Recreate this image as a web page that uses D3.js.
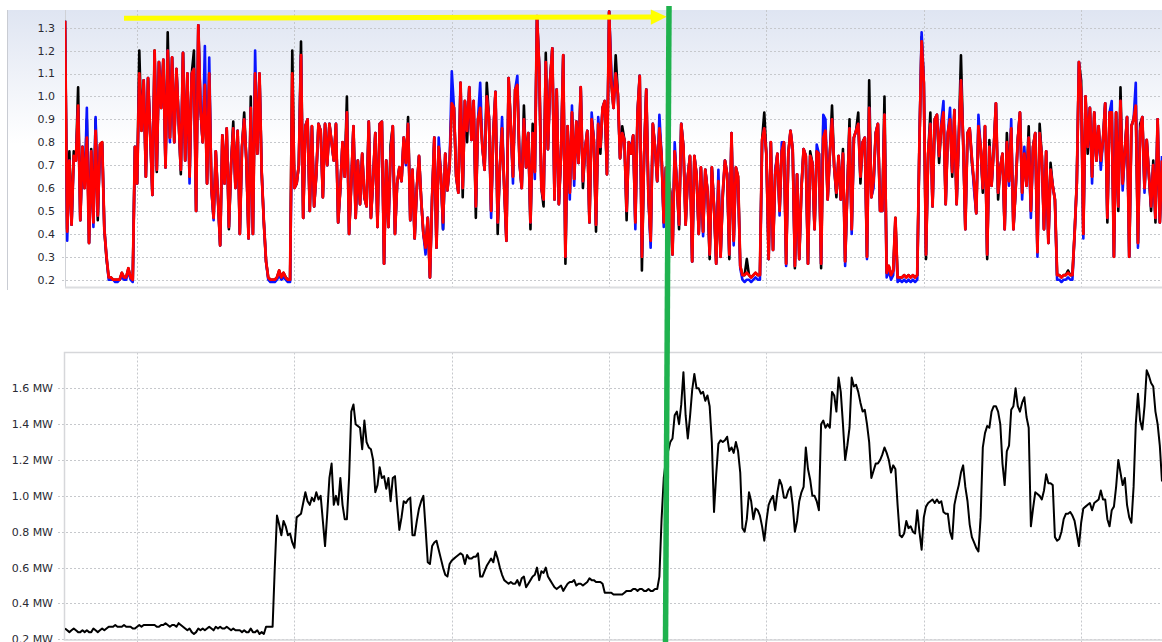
<!DOCTYPE html>
<html>
<head>
<meta charset="utf-8">
<script src="https://cdn.jsdelivr.net/npm/d3@7"></script>
<style>
  html, body { margin: 0; padding: 0; background: #fff; }
  svg { display: block; }
  text { font-family: "DejaVu Sans", Verdana, sans-serif; font-size: 11px; fill: #2a2a33; }
</style>
</head>
<body>
<svg id="chart" width="1162" height="642"></svg>
<script>
// ---- data: hourly samples, one value per hour ----
const topTicks = [0.2, 0.3, 0.4, 0.5, 0.6, 0.7, 0.8, 0.9, 1.0, 1.1, 1.2, 1.3];
const powerTicks = [0.2, 0.4, 0.6, 0.8, 1.0, 1.2, 1.4, 1.6];
// hour index of each vertical grid line (every 72 h)
const timeGrid = [33, 105, 177, 249, 321, 393, 465];

const seriesBlack = [
  1.33,0.42,0.76,0.44,0.76,0.72,1.04,0.46,0.78,0.6,
  0.9,0.36,0.77,0.45,0.9,0.46,0.79,0.8,0.42,0.29,
  0.21,0.21,0.2,0.2,0.2,0.2,0.23,0.21,0.21,0.25,
  0.21,0.2,0.78,0.62,1.2,0.85,1.07,0.65,1.08,0.84,
  0.57,1.2,0.67,1.15,0.95,1.16,0.69,1.28,0.82,1.17,
  0.8,1.12,0.9,0.66,1.19,0.72,1.1,0.65,1.1,1.2,
  0.5,1.31,0.95,0.8,1.05,0.62,1.1,0.6,0.47,0.76,
  0.55,0.35,0.83,0.62,0.86,0.42,0.7,0.89,0.6,0.85,
  0.4,0.78,0.93,0.72,0.38,1.0,0.4,1.1,0.75,1.1,
  0.67,0.45,0.28,0.21,0.2,0.2,0.2,0.21,0.24,0.21,
  0.23,0.21,0.2,0.2,1.2,0.6,0.62,0.7,1.24,0.47,
  0.87,0.9,0.5,0.87,0.52,0.66,0.88,0.85,0.56,0.88,
  0.7,0.88,0.8,0.72,0.88,0.45,0.6,0.8,0.65,1.0,
  0.4,0.62,0.87,0.47,0.72,0.53,0.75,0.56,0.52,0.89,
  0.47,0.64,0.84,0.43,0.88,0.89,0.27,0.72,0.43,0.79,
  0.87,0.4,0.62,0.69,0.63,0.82,0.71,0.91,0.46,0.68,
  0.38,0.6,0.74,0.55,0.4,0.34,0.47,0.21,0.56,0.82,
  0.34,0.78,0.66,0.42,0.75,0.59,0.7,0.97,0.95,0.65,
  0.58,1.06,0.56,0.98,0.8,1.04,0.81,0.98,0.47,0.9,
  0.95,0.78,0.68,1.06,0.91,0.5,0.84,1.02,0.4,0.69,
  0.86,0.6,0.37,1.08,0.87,0.65,1.03,1.05,0.71,0.6,
  0.96,0.69,0.84,0.42,0.88,0.67,1.35,1.13,0.6,0.52,
  1.19,0.77,1.07,1.21,0.55,1.03,0.53,0.75,1.18,0.27,
  0.87,0.58,0.93,0.64,0.89,0.71,1.04,0.6,0.77,0.85,
  0.45,0.9,0.81,0.41,0.88,0.75,0.95,0.98,0.66,1.37,
  1.06,0.95,1.18,1.01,0.73,0.87,0.81,0.46,0.8,0.75,
  0.83,0.45,0.93,1.09,0.24,0.74,1.03,0.56,0.37,0.88,
  0.78,0.63,0.86,0.74,0.45,0.69,0.65,0.58,0.31,0.76,
  0.62,0.42,0.88,0.78,0.44,0.65,0.74,0.28,0.74,0.66,
  0.4,0.69,0.41,0.68,0.59,0.29,0.69,0.52,0.27,0.63,
  0.3,0.56,0.72,0.66,0.29,0.84,0.37,0.69,0.65,0.26,
  0.22,0.22,0.29,0.22,0.21,0.22,0.23,0.22,0.22,0.81,
  0.93,0.74,0.29,0.8,0.33,0.66,0.75,0.5,0.76,0.8,
  0.27,0.75,0.85,0.77,0.25,0.66,0.29,0.6,0.77,0.74,
  0.27,0.76,0.71,0.42,0.76,0.75,0.25,0.88,0.85,0.55,
  0.75,0.96,0.69,0.56,0.74,0.55,0.77,0.28,0.59,0.9,
  0.42,0.82,0.85,0.93,0.62,0.8,0.82,0.3,1.07,0.56,
  0.63,0.84,0.88,0.5,0.5,1.0,0.23,0.26,0.22,0.24,
  0.47,0.21,0.21,0.21,0.22,0.21,0.22,0.21,0.22,0.21,
  0.22,0.8,1.26,1.06,0.29,0.75,0.93,0.52,0.9,0.92,
  0.71,0.87,0.93,0.53,0.84,0.9,0.65,0.94,0.53,0.82,
  1.18,0.81,0.42,0.84,0.86,0.71,0.62,0.49,0.87,0.78,
  0.58,0.87,0.29,0.81,0.61,0.77,0.97,0.55,0.69,0.75,
  0.42,0.84,0.63,0.86,0.42,0.59,0.81,0.93,0.58,0.75,
  0.61,0.87,0.5,0.78,0.84,0.32,0.88,0.74,0.42,0.76,
  0.36,0.71,0.61,0.55,0.22,0.22,0.21,0.22,0.22,0.24,
  0.22,0.22,0.4,0.62,1.15,1.07,0.4,1.0,0.75,0.95,
  0.65,0.93,0.72,0.87,0.71,0.81,0.97,0.45,0.93,0.93,
  0.3,0.93,0.5,1.04,0.62,0.76,0.91,0.3,0.87,0.9,
  0.96,0.36,0.88,0.91,0.6,0.81,0.66,0.5,0.72,0.45,0.9,0.45,0.72
];

const seriesBlue = [
  1.33,0.37,0.72,0.44,0.73,0.72,0.95,0.46,0.78,0.6,
  0.95,0.36,0.76,0.43,0.91,0.48,0.78,0.79,0.42,0.3,
  0.2,0.2,0.2,0.19,0.19,0.2,0.21,0.2,0.2,0.24,
  0.2,0.19,0.78,0.62,1.08,0.87,1.07,0.65,1.08,0.84,
  0.57,1.18,0.68,1.15,0.95,1.16,0.69,1.2,0.8,1.17,
  0.8,1.12,0.9,0.68,1.19,0.72,1.1,0.62,1.1,1.12,
  0.5,1.31,0.95,0.8,1.22,0.62,1.17,0.6,0.46,0.76,
  0.55,0.35,0.83,0.62,0.86,0.43,0.7,0.86,0.6,0.85,
  0.4,0.78,0.9,0.72,0.38,0.95,0.4,1.2,0.75,1.1,
  0.67,0.45,0.28,0.2,0.19,0.19,0.19,0.2,0.22,0.2,
  0.21,0.2,0.19,0.19,0.96,0.6,0.62,0.7,1.18,0.47,
  0.87,0.9,0.5,0.87,0.52,0.66,0.88,0.85,0.56,0.88,
  0.7,0.88,0.8,0.72,0.88,0.45,0.6,0.8,0.65,0.93,
  0.4,0.62,0.87,0.47,0.72,0.53,0.75,0.56,0.52,0.89,
  0.47,0.64,0.84,0.43,0.88,0.89,0.27,0.72,0.43,0.75,
  0.87,0.4,0.62,0.69,0.63,0.82,0.7,0.88,0.46,0.68,
  0.38,0.6,0.74,0.55,0.4,0.31,0.47,0.21,0.56,0.82,
  0.34,0.82,0.66,0.42,0.75,0.59,0.7,1.11,0.95,0.65,
  0.58,1.06,0.6,0.98,0.85,1.04,0.81,0.98,0.52,0.9,
  1.06,0.78,0.68,1.0,0.91,0.47,0.84,1.02,0.45,0.69,
  0.91,0.6,0.37,1.08,0.87,0.62,1.03,1.09,0.71,0.6,
  0.9,0.69,0.84,0.45,0.84,0.64,1.35,1.13,0.6,0.55,
  1.15,0.77,1.07,1.21,0.55,1.03,0.53,0.75,1.18,0.3,
  0.87,0.55,0.96,0.61,0.89,0.71,1.04,0.63,0.77,0.85,
  0.45,0.93,0.81,0.44,0.91,0.78,0.95,0.98,0.66,1.37,
  1.11,0.95,1.1,1.01,0.73,0.84,0.81,0.5,0.8,0.78,
  0.83,0.42,0.93,1.09,0.3,0.74,1.03,0.56,0.34,0.88,
  0.78,0.63,0.92,0.74,0.43,0.69,0.65,0.58,0.31,0.8,
  0.62,0.44,0.88,0.78,0.44,0.65,0.74,0.28,0.74,0.66,
  0.4,0.69,0.39,0.68,0.59,0.31,0.69,0.52,0.27,0.68,
  0.3,0.58,0.72,0.66,0.31,0.84,0.35,0.69,0.63,0.25,
  0.2,0.19,0.2,0.2,0.19,0.2,0.21,0.2,0.2,0.8,
  0.86,0.74,0.29,0.8,0.33,0.68,0.75,0.48,0.8,0.8,
  0.26,0.75,0.85,0.77,0.26,0.66,0.29,0.6,0.77,0.74,
  0.27,0.74,0.71,0.42,0.79,0.75,0.27,0.92,0.9,0.55,
  0.75,0.9,0.69,0.58,0.74,0.55,0.75,0.26,0.59,0.86,
  0.4,0.82,0.85,0.88,0.65,0.8,0.82,0.29,0.95,0.56,
  0.6,0.84,0.88,0.5,0.5,0.92,0.21,0.24,0.2,0.22,
  0.45,0.19,0.2,0.19,0.2,0.19,0.2,0.19,0.2,0.19,
  0.2,0.8,1.28,1.06,0.31,0.75,0.88,0.52,0.9,0.92,
  0.74,0.89,0.98,0.53,0.84,0.95,0.67,0.94,0.53,0.82,
  1.07,0.81,0.42,0.84,0.86,0.73,0.59,0.49,0.92,0.78,
  0.6,0.87,0.31,0.78,0.61,0.77,0.97,0.58,0.69,0.75,
  0.42,0.8,0.61,0.9,0.42,0.59,0.81,0.93,0.55,0.78,
  0.61,0.82,0.47,0.78,0.84,0.3,0.84,0.74,0.42,0.76,
  0.36,0.68,0.61,0.55,0.2,0.2,0.19,0.2,0.2,0.21,
  0.2,0.2,0.4,0.62,1.15,1.02,0.38,1.0,0.78,0.95,
  0.62,0.93,0.72,0.87,0.68,0.81,0.97,0.47,0.93,0.98,
  0.3,0.93,0.52,0.98,0.59,0.76,0.91,0.3,0.87,0.9,
  1.06,0.34,0.85,0.91,0.58,0.81,0.66,0.52,0.7,0.47,0.9,0.45,0.74
];

const seriesRed = [
  1.33,0.41,0.72,0.44,0.74,0.72,0.96,0.46,0.78,0.6,
  0.82,0.36,0.76,0.45,0.85,0.48,0.79,0.8,0.42,0.3,
  0.21,0.21,0.2,0.2,0.2,0.2,0.23,0.21,0.21,0.25,
  0.21,0.2,0.78,0.62,1.1,0.85,1.07,0.65,1.08,0.84,
  0.57,1.2,0.68,1.15,0.95,1.16,0.69,1.2,0.82,1.17,
  0.8,1.12,0.9,0.68,1.19,0.72,1.1,0.65,1.1,1.12,
  0.5,1.31,0.95,0.8,1.05,0.62,1.1,0.6,0.47,0.76,
  0.55,0.35,0.83,0.62,0.86,0.43,0.7,0.86,0.6,0.85,
  0.4,0.78,0.9,0.72,0.38,0.95,0.4,1.1,0.75,1.1,
  0.67,0.45,0.28,0.21,0.2,0.2,0.2,0.21,0.24,0.21,
  0.23,0.21,0.2,0.2,1.1,0.6,0.62,0.7,1.18,0.47,
  0.87,0.9,0.5,0.87,0.52,0.66,0.88,0.85,0.56,0.88,
  0.7,0.88,0.8,0.72,0.88,0.45,0.6,0.8,0.65,0.93,
  0.4,0.62,0.87,0.47,0.72,0.53,0.75,0.56,0.52,0.89,
  0.47,0.64,0.84,0.43,0.88,0.89,0.27,0.72,0.43,0.75,
  0.87,0.4,0.62,0.69,0.63,0.82,0.71,0.88,0.46,0.68,
  0.38,0.6,0.74,0.55,0.4,0.34,0.47,0.21,0.56,0.82,
  0.34,0.78,0.66,0.45,0.75,0.59,0.7,0.97,0.95,0.65,
  0.58,1.06,0.6,0.98,0.85,1.04,0.81,0.98,0.52,0.9,
  0.95,0.78,0.68,1.0,0.91,0.5,0.84,1.02,0.45,0.69,
  0.86,0.6,0.37,1.08,0.87,0.65,1.03,1.05,0.71,0.6,
  0.9,0.69,0.84,0.45,0.84,0.67,1.35,1.13,0.6,0.55,
  1.15,0.77,1.07,1.21,0.55,1.03,0.53,0.75,1.18,0.3,
  0.87,0.58,0.93,0.64,0.89,0.71,1.04,0.63,0.77,0.85,
  0.45,0.9,0.81,0.44,0.88,0.78,0.95,0.98,0.66,1.37,
  1.06,0.95,1.1,1.01,0.73,0.84,0.81,0.5,0.8,0.75,
  0.83,0.45,0.93,1.09,0.3,0.74,1.03,0.56,0.37,0.88,
  0.78,0.63,0.86,0.74,0.45,0.69,0.65,0.58,0.31,0.76,
  0.62,0.44,0.88,0.78,0.44,0.65,0.74,0.28,0.74,0.66,
  0.4,0.69,0.41,0.68,0.59,0.31,0.69,0.52,0.27,0.63,
  0.3,0.58,0.72,0.66,0.31,0.84,0.37,0.69,0.65,0.26,
  0.22,0.22,0.23,0.22,0.21,0.22,0.23,0.22,0.22,0.81,
  0.86,0.74,0.29,0.8,0.33,0.66,0.75,0.5,0.76,0.8,
  0.27,0.75,0.85,0.77,0.26,0.66,0.29,0.6,0.77,0.74,
  0.27,0.74,0.71,0.42,0.76,0.75,0.27,0.82,0.85,0.55,
  0.75,0.9,0.69,0.58,0.74,0.55,0.75,0.28,0.59,0.86,
  0.42,0.82,0.85,0.88,0.65,0.8,0.82,0.3,0.95,0.56,
  0.63,0.84,0.88,0.5,0.5,0.92,0.23,0.26,0.22,0.24,
  0.47,0.21,0.21,0.21,0.22,0.21,0.22,0.21,0.22,0.21,
  0.22,0.8,1.24,1.06,0.31,0.75,0.88,0.52,0.9,0.92,
  0.74,0.87,0.93,0.53,0.84,0.9,0.67,0.94,0.53,0.82,
  1.07,0.81,0.42,0.84,0.86,0.73,0.62,0.49,0.87,0.78,
  0.6,0.87,0.31,0.78,0.61,0.77,0.97,0.58,0.69,0.75,
  0.42,0.8,0.63,0.86,0.42,0.59,0.81,0.93,0.58,0.75,
  0.61,0.82,0.5,0.78,0.84,0.32,0.84,0.74,0.42,0.76,
  0.36,0.68,0.61,0.55,0.22,0.22,0.21,0.22,0.22,0.23,
  0.22,0.22,0.4,0.62,1.15,1.02,0.4,1.0,0.78,0.95,
  0.65,0.93,0.72,0.87,0.72,0.81,0.97,0.47,0.93,0.93,
  0.3,0.93,0.52,0.98,0.62,0.76,0.91,0.3,0.87,0.9,
  0.96,0.36,0.85,0.91,0.6,0.81,0.66,0.52,0.7,0.47,0.9,0.45,0.72
];

// electrical load in MW, same hourly time base
const powerMW = [
  0.26,0.25,0.24,0.25,0.26,0.25,0.24,0.24,0.25,0.24,
  0.25,0.24,0.24,0.26,0.25,0.24,0.25,0.26,0.25,0.26,
  0.27,0.27,0.27,0.28,0.27,0.27,0.27,0.28,0.27,0.27,
  0.27,0.26,0.26,0.27,0.28,0.27,0.28,0.28,0.28,0.28,
  0.28,0.28,0.27,0.27,0.28,0.28,0.29,0.28,0.27,0.28,
  0.28,0.27,0.29,0.28,0.27,0.26,0.25,0.26,0.24,0.23,
  0.24,0.26,0.25,0.26,0.25,0.26,0.27,0.26,0.25,0.27,
  0.26,0.27,0.26,0.26,0.27,0.26,0.25,0.26,0.25,0.25,
  0.25,0.24,0.25,0.24,0.24,0.26,0.24,0.24,0.25,0.23,
  0.24,0.23,0.27,0.27,0.27,0.27,0.6,0.89,0.84,0.78,
  0.86,0.83,0.78,0.79,0.74,0.71,0.88,0.89,0.9,0.96,
  1.02,0.97,0.95,0.99,0.97,1.02,0.98,1.0,0.86,0.72,
  0.9,1.1,1.18,0.95,1.0,0.95,1.1,0.95,0.87,0.87,
  1.1,1.47,1.51,1.4,1.39,1.38,1.26,1.42,1.3,1.27,
  1.26,1.2,1.02,1.06,1.16,1.1,1.11,1.04,1.1,0.97,
  1.1,1.11,0.95,0.81,0.88,0.97,0.96,0.98,0.99,0.78,
  0.78,0.86,0.93,0.97,1.0,0.82,0.63,0.62,0.72,0.74,
  0.75,0.7,0.65,0.6,0.56,0.55,0.62,0.64,0.65,0.66,
  0.67,0.68,0.67,0.62,0.67,0.65,0.65,0.66,0.66,0.68,
  0.55,0.55,0.58,0.61,0.63,0.65,0.63,0.69,0.65,0.6,
  0.56,0.53,0.52,0.51,0.52,0.51,0.51,0.53,0.5,0.54,
  0.55,0.49,0.51,0.53,0.55,0.56,0.6,0.53,0.58,0.57,
  0.6,0.55,0.53,0.51,0.49,0.48,0.49,0.5,0.47,0.49,
  0.51,0.52,0.52,0.53,0.5,0.51,0.51,0.5,0.51,0.52,
  0.54,0.53,0.53,0.52,0.52,0.52,0.51,0.46,0.46,0.46,
  0.46,0.45,0.45,0.45,0.45,0.45,0.46,0.47,0.47,0.47,
  0.48,0.48,0.47,0.48,0.48,0.47,0.47,0.48,0.47,0.47,
  0.48,0.48,0.55,0.87,1.1,1.2,1.25,1.3,1.32,1.45,
  1.47,1.4,1.51,1.69,1.45,1.32,1.44,1.59,1.68,1.6,
  1.6,1.57,1.58,1.53,1.56,1.5,1.3,0.91,1.12,1.29,
  1.31,1.3,1.31,1.33,1.25,1.27,1.24,1.3,1.25,1.13,
  0.82,0.8,0.87,1.02,0.97,0.87,0.93,0.92,0.89,0.83,
  0.75,0.86,0.95,0.98,1.0,0.92,1.02,1.09,1.06,0.99,
  0.99,1.03,1.05,0.95,0.8,0.86,0.97,1.02,1.05,1.27,
  1.15,1.09,1.0,1.0,0.97,0.92,1.4,1.42,1.38,1.4,
  1.38,1.58,1.56,1.47,1.66,1.58,1.4,1.2,1.28,1.38,
  1.66,1.61,1.62,1.58,1.52,1.47,1.48,1.4,1.3,1.1,
  1.14,1.18,1.18,1.2,1.23,1.27,1.24,1.2,1.13,1.17,
  1.15,0.95,0.78,0.77,0.79,0.86,0.82,0.83,0.8,0.79,
  0.92,0.8,0.7,0.88,0.94,0.96,0.97,0.98,0.96,0.98,
  0.96,0.97,0.91,0.9,0.9,0.8,0.76,0.95,1.01,1.06,
  1.13,1.17,1.05,0.97,0.84,0.77,0.74,0.71,0.69,0.88,
  1.27,1.35,1.39,1.38,1.47,1.5,1.5,1.47,1.4,1.18,
  1.06,1.25,1.28,1.48,1.5,1.6,1.5,1.47,1.52,1.55,
  1.44,1.38,0.83,0.93,1.02,1.01,1.0,0.98,1.03,1.12,
  1.07,1.07,1.06,0.77,0.75,0.76,0.8,0.87,0.9,0.9,
  0.91,0.89,0.86,0.79,0.72,0.85,0.93,0.94,0.95,0.96,
  0.92,0.96,0.97,0.98,1.03,0.98,0.98,0.87,0.83,0.92,
  0.94,1.05,1.2,1.13,1.06,1.1,0.95,0.88,0.85,1.05,
  1.4,1.57,1.42,1.37,1.5,1.7,1.67,1.63,1.61,1.47,1.4,1.28,1.08
];

// hand-drawn markers, in hours: arrow span and the vertical cut line
const arrowFromHour = 27, arrowToHour = 269;
const markerHourTop = 276.4, markerHourBottom = 274.8;

// ---- layout ----
const W = 1162, H = 642;
const plotLeft = 65, plotRight = W;
const upperFrame = { left: 7, top: 10, bottom: 287 };
const lowerFrame = { top: 352.5, bottom: 640 };

const svg = d3.select("#chart");
const x = d3.scaleLinear().domain([0, seriesRed.length - 1]).range([plotLeft, plotRight]);
const yUpper = d3.scaleLinear().domain([0.2, 1.3]).range([279.7, 27.7]);
const yLower = d3.scaleLinear().domain([0.2, 1.6]).range([639.3, 388.3]);

const defs = svg.append("defs");
const grad = defs.append("linearGradient").attr("id", "upperBg")
  .attr("x1", 0).attr("y1", 0).attr("x2", 0).attr("y2", 1);
grad.append("stop").attr("offset", "0%").attr("stop-color", "#dfe5f2");
grad.append("stop").attr("offset", "22%").attr("stop-color", "#eef1f8");
grad.append("stop").attr("offset", "48%").attr("stop-color", "#ffffff");
grad.append("stop").attr("offset", "100%").attr("stop-color", "#ffffff");

defs.append("clipPath").attr("id", "clipUpper").append("rect")
  .attr("x", plotLeft).attr("y", upperFrame.top - 4)
  .attr("width", plotRight - plotLeft).attr("height", upperFrame.bottom - upperFrame.top + 4);
defs.append("clipPath").attr("id", "clipLower").append("rect")
  .attr("x", plotLeft).attr("y", lowerFrame.top)
  .attr("width", plotRight - plotLeft).attr("height", H - lowerFrame.top);

// ---- upper panel ----
const upperPanel = svg.append("g");
upperPanel.append("rect")
  .attr("x", upperFrame.left).attr("y", upperFrame.top)
  .attr("width", W - upperFrame.left).attr("height", upperFrame.bottom - upperFrame.top + 3)
  .attr("fill", "url(#upperBg)");
upperPanel.append("line")
  .attr("x1", upperFrame.left + 0.5).attr("x2", upperFrame.left + 0.5)
  .attr("y1", upperFrame.top).attr("y2", upperFrame.bottom + 3)
  .attr("stroke", "#c9ccd3").attr("stroke-width", 1);

upperPanel.append("g").selectAll("line").data(topTicks).join("line")
  .attr("x1", plotLeft - 3).attr("x2", plotRight)
  .attr("y1", d => Math.round(yUpper(d)) + 0.5).attr("y2", d => Math.round(yUpper(d)) + 0.5)
  .attr("stroke", "#c6c8cc").attr("stroke-dasharray", "2,2");
upperPanel.append("g").selectAll("line").data(timeGrid).join("line")
  .attr("x1", d => Math.round(x(d)) + 0.5).attr("x2", d => Math.round(x(d)) + 0.5)
  .attr("y1", upperFrame.top).attr("y2", upperFrame.bottom)
  .attr("stroke", "#c6c8cc").attr("stroke-dasharray", "2,2");

upperPanel.append("line")
  .attr("x1", plotLeft + 0.5).attr("x2", plotLeft + 0.5)
  .attr("y1", upperFrame.top).attr("y2", upperFrame.bottom)
  .attr("stroke", "#cfd1d6");
upperPanel.append("line")
  .attr("x1", plotLeft).attr("x2", plotRight)
  .attr("y1", upperFrame.bottom + 0.5).attr("y2", upperFrame.bottom + 0.5)
  .attr("stroke", "#dcdde0").attr("stroke-width", 2);

upperPanel.append("g").selectAll("text").data(topTicks).join("text")
  .attr("x", 55).attr("y", d => yUpper(d)).attr("dy", "0.36em")
  .attr("text-anchor", "end")
  .text(d => d3.format(".1f")(d));

const lineUpper = d3.line().x((d, i) => x(i)).y(d => yUpper(d));
const seriesLayer = upperPanel.append("g").attr("clip-path", "url(#clipUpper)");
[[seriesBlack, "#000000", 2.6], [seriesBlue, "#0a14ff", 2.6], [seriesRed, "#ff0000", 2.8]].forEach(([vals, col, w]) => {
  seriesLayer.append("path").datum(vals)
    .attr("d", lineUpper)
    .attr("fill", "none").attr("stroke", col)
    .attr("stroke-width", w).attr("stroke-linejoin", "round");
});

// ---- lower panel ----
const lowerPanel = svg.append("g");
lowerPanel.append("g").selectAll("line").data(powerTicks).join("line")
  .attr("x1", plotLeft - 7).attr("x2", plotRight)
  .attr("y1", d => Math.round(yLower(d)) + 0.5).attr("y2", d => Math.round(yLower(d)) + 0.5)
  .attr("stroke", "#c6c8cc").attr("stroke-dasharray", "2,2");
lowerPanel.append("g").selectAll("line").data(timeGrid).join("line")
  .attr("x1", d => Math.round(x(d)) + 0.5).attr("x2", d => Math.round(x(d)) + 0.5)
  .attr("y1", lowerFrame.top).attr("y2", H)
  .attr("stroke", "#c6c8cc").attr("stroke-dasharray", "2,2");
lowerPanel.append("rect")
  .attr("x", plotLeft - 0.5).attr("y", lowerFrame.top)
  .attr("width", W).attr("height", lowerFrame.bottom - lowerFrame.top)
  .attr("fill", "none").attr("stroke", "#d6d7da").attr("stroke-width", 1.5);

lowerPanel.append("g").selectAll("text").data(powerTicks).join("text")
  .attr("x", 53).attr("y", d => yLower(d)).attr("dy", "0.36em")
  .attr("text-anchor", "end")
  .text(d => d3.format(".1f")(d) + " MW");

const lineLower = d3.line().x((d, i) => x(i)).y(d => yLower(d));
lowerPanel.append("path").datum(powerMW)
  .attr("clip-path", "url(#clipLower)")
  .attr("d", lineLower)
  .attr("fill", "none").attr("stroke", "#000")
  .attr("stroke-width", 2).attr("stroke-linejoin", "round");

// ---- markers drawn over both panels ----
const markers = svg.append("g");
const ax0 = x(arrowFromHour), ax1 = x(arrowToHour);
markers.append("line")
  .attr("x1", ax0).attr("y1", 18.2).attr("x2", ax1).attr("y2", 16.9)
  .attr("stroke", "#ffff00").attr("stroke-width", 5);
markers.append("path")
  .attr("d", `M${ax1 - 2},9.5 L${ax1 + 14},16.8 L${ax1 - 2},24.8 Z`)
  .attr("fill", "#ffff00");
markers.append("line")
  .attr("x1", x(markerHourTop)).attr("y1", 6)
  .attr("x2", x(markerHourBottom)).attr("y2", H)
  .attr("stroke", "#1fb24e").attr("stroke-width", 5.5);
</script>
</body>
</html>
